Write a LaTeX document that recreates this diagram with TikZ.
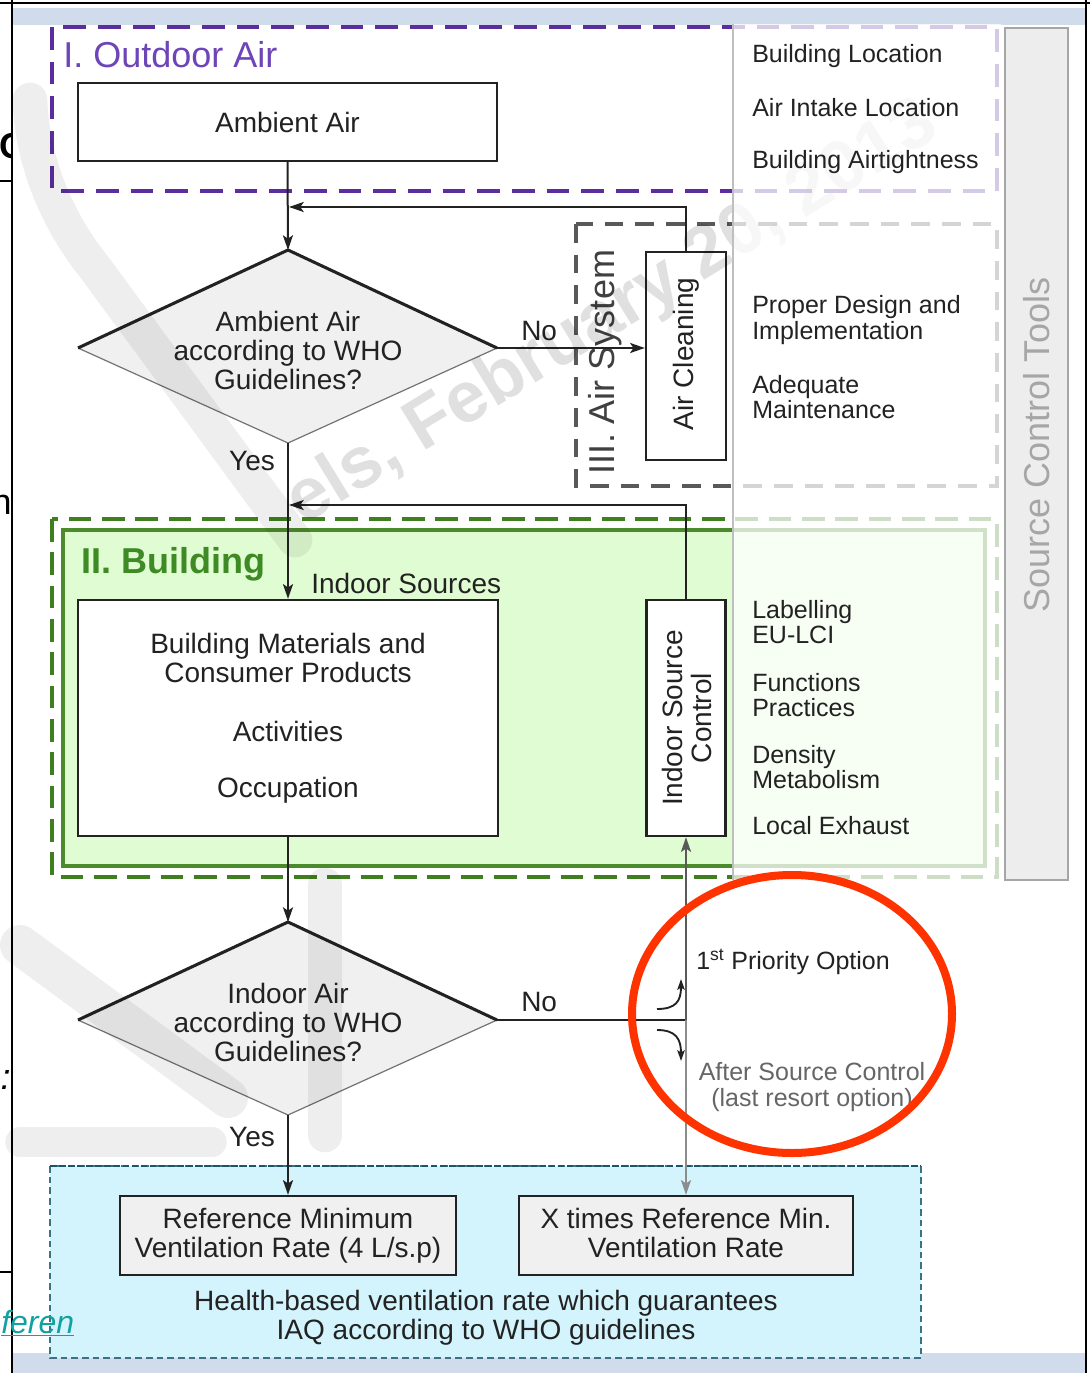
\documentclass[tikz,border=0pt]{standalone}
\usepackage{fontspec}
\setmainfont{Liberation Sans}
\usetikzlibrary{arrows.meta}
\definecolor{outpurple}{HTML}{5B2D9E}
\definecolor{titlepurple}{HTML}{6E45B8}
\definecolor{bgreen}{HTML}{3F7F1F}
\definecolor{bgreenfill}{HTML}{E0FCD2}
\definecolor{tgreen}{HTML}{3E8A24}
\definecolor{ingreen}{HTML}{4B8B2B}
\definecolor{bluefill}{HTML}{D3F4FC}
\definecolor{bluedash}{HTML}{1D5566}
\definecolor{bluedashs}{HTML}{3C7282}
\definecolor{stripblue}{HTML}{D0DCEC}
\definecolor{redring}{HTML}{FF3300}
\definecolor{teallink}{HTML}{13A0A0}
\definecolor{inkc}{HTML}{222222}
\definecolor{boxfill}{HTML}{F0F0F0}
\newcommand{\fmain}{\fontsize{21}{21.75}\selectfont}
\newcommand{\fsmall}{\fontsize{18.75}{19}\selectfont}
\newcommand{\ftitle}{\fontsize{27}{30}\selectfont}
\begin{document}
\begin{tikzpicture}[x=0.75pt,y=-0.75pt,
  box/.style={draw=inkc, line width=1.8pt, inner sep=0pt, align=center, font=\fmain, text=inkc},
  conn/.style={line width=1.5pt, draw=inkc, -{Stealth[length=11pt,width=7.5pt,inset=2.5pt]}},
  conline/.style={line width=1.5pt, draw=inkc},
  lbl/.style={font=\fmain, inner sep=0pt, text=inkc},
  tool/.style={font=\fsmall, inner sep=0pt, anchor=west, align=left, text=inkc},
  band/.style={draw=black, draw opacity=0.065, line width=26pt, line cap=round, line join=round},
  smallarrow/.style={line width=1.4pt, draw=inkc, -{Stealth[length=8pt,width=5.5pt,inset=1.5pt]}}
]
\useasboundingbox (0,0) rectangle (1090,1373);
\fill[white] (0,0) rectangle (1090,1373);

% page fragments at the left edge
\begin{scope}
\clip (0,0) rectangle (11,1373);
\node[font={\fontsize{27}{27}\selectfont\bfseries}, anchor=west, inner sep=0pt] (fragc) at (-1,146) {C};
\node[font={\fontsize{27}{27}\selectfont}, anchor=east, inner sep=0pt] (fragn) at (12,505) {n};
\node[font={\fontsize{27}{27}\selectfont\itshape}, anchor=east, inner sep=0pt] (fragcolon) at (11,1080) {:};
\end{scope}
\draw[line width=2.2pt] (0,181) -- (12,181);
\draw[line width=1.2pt] (0,1272) -- (12,1272);

% page border lines and strips
\fill[stripblue] (13,8) rectangle (1086,25);
\fill[stripblue] (13,1353) rectangle (1086,1373);
\draw[line width=1.5pt] (0,3) -- (1090,3);
\draw[line width=1.5pt] (12,0) -- (12,1373);
\draw[line width=1.5pt] (1086,0) -- (1086,1373);

% frames
\draw[bgreen, line width=3.2pt, dash pattern=on 17pt off 8pt] (52,519) rectangle (997,877);
\draw[ingreen, fill=bgreenfill, line width=3.6pt] (63,530) rectangle (985,866);
\draw[outpurple, line width=3.2pt, dash pattern=on 17pt off 9pt] (52,27) rectangle (997,191);
\draw[black!65, line width=3pt, dash pattern=on 14pt off 9pt] (576,224) rectangle (997,486);
\draw[bluedashs, fill=bluefill, line width=1.3pt, dash pattern=on 5pt off 3pt] (50,1166) rectangle (921,1358);
\draw[bluedash, line width=2.2pt, dash pattern=on 5pt off 1.8pt] (50,1166) -- (921,1166);

% titles
\node[font=\ftitle, text=titlepurple, anchor=west, inner sep=0pt] (t1) at (63,55) {I. Outdoor Air};
\node[font={\ftitle\bfseries}, text=tgreen, anchor=west, inner sep=0pt] (t2) at (81,564) {II. Building};
\node[font=\ftitle, text=black!75, rotate=90, inner sep=0pt] (t3) at (605,362) {III. Air System};

% boxes
\node[box, fill=white, minimum width=314.25pt, minimum height=58.5pt] (aa) at (287.5,122) {Ambient Air};
\node[box, fill=white, minimum width=60pt, minimum height=156pt] (ac) at (686,356) {};
\node[lbl, rotate=90] (act) at (686,354) {Air Cleaning};
\node[box, fill=white, minimum width=315pt, minimum height=177pt] (bm) at (288,718) {Building Materials and\\Consumer Products\\[22.5pt]Activities\\[20.5pt]Occupation};
\node[box, fill=white, minimum width=59.25pt, minimum height=177pt] (isc) at (686,718) {};
\node[lbl, rotate=90, align=center] (isct) at (687,718) {Indoor Source\\Control};
\node[box, fill=boxfill, minimum width=252pt, minimum height=59.25pt] (rm) at (288,1235.5) {Reference Minimum\\Ventilation Rate (4 L/s.p)};
\node[box, fill=boxfill, minimum width=250.5pt, minimum height=59.25pt] (xt) at (686,1235.5) {X times Reference Min.\\Ventilation Rate\vphantom{(p}};

% diamonds
\coordinate (d1n) at (288,250); \coordinate (d1w) at (78,348);
\coordinate (d1e) at (497,348); \coordinate (d1s) at (288,443);
\fill[boxfill] (d1n) -- (d1e) -- (d1s) -- (d1w) -- cycle;
\draw[black!55, line width=0.9pt] (d1w) -- (d1s) -- (d1e);
\draw[inkc, line width=2.3pt] (d1w) -- (d1n) -- (d1e);
\node[lbl, align=center] (d1t) at (288,350) {Ambient Air\\according to WHO\\Guidelines?};

\coordinate (d2n) at (288,922); \coordinate (d2w) at (78,1020);
\coordinate (d2e) at (497,1020); \coordinate (d2s) at (288,1115);
\fill[boxfill] (d2n) -- (d2e) -- (d2s) -- (d2w) -- cycle;
\draw[black!55, line width=0.9pt] (d2w) -- (d2s) -- (d2e);
\draw[inkc, line width=2.3pt] (d2w) -- (d2n) -- (d2e);
\node[lbl, align=center] (d2t) at (288,1022) {Indoor Air\\according to WHO\\Guidelines?};

% connectors
\coordinate (j1) at (289,207);
\coordinate (j2) at (289,505);
\coordinate (j3) at (686,1020);
\draw[conn] (aa.south) -- (d1n);
\draw[conn] (ac.north) |- (j1);
\draw[conn] (d1e) -- (d1e -| ac.west);
\draw[conn] (d1s) -- (bm.north);
\draw[conn] (isc.north) |- (j2);
\draw[conn] (bm.south) -- (d2n);
\draw[conline] (d2e) -- (j3);
\draw[conn, draw=black!65] (j3) -- (isc.south);
\draw[conn, draw=black!45] (j3) -- (j3 |- xt.north);
\draw[conn] (d2s) -- (rm.north);

\node[lbl, anchor=west] (no1) at (521,331) {No};
\node[lbl, anchor=west] (no2) at (521,1002) {No};
\node[lbl] (yes1) at (252,461) {Yes};
\node[lbl] (yes2) at (252,1137) {Yes};
\node[lbl, anchor=west] (insrc) at (311,583) {Indoor Sources};

% small curved arrows
\coordinate (ca1s) at (657,1009); \coordinate (ca1e) at (681,979);
\coordinate (ca2s) at (657,1030); \coordinate (ca2e) at (681,1061);
\draw[smallarrow] (ca1s) .. controls (676,1009) and (681,1001) .. (ca1e);
\draw[smallarrow] (ca2s) .. controls (676,1030) and (681,1039) .. (ca2e);

\node[lbl, align=center] (hb) at (486,1318) {Health-based ventilation rate which guarantees\\IAQ according to WHO guidelines};

% watermark (translucent, over the drawing)
\draw[band] (30,100) .. controls (32,165) and (60,225) .. (95,268) -- (295,540);
\draw[band, line width=30pt] (20,945) -- (228,1098);
\draw[band] (325,885) -- (325,1135);
\draw[band, line width=22pt] (20,1142) -- (212,1142);
\node[font={\fontsize{54}{54}\selectfont\bfseries}, text=black, text opacity=0.12, rotate=31.5, anchor=base west, inner sep=0pt] (wm) at (303,526) {els, February 20, 2013};

% faded right panel
\fill[white, opacity=0.75] (733,24) rectangle (1001,881);
\draw[black!25, line width=0.8pt] (733,24) -- (733,880);

% source control tools column
\node[draw=black!35, fill=black!7, line width=1.2pt, minimum width=47.25pt, minimum height=639pt, inner sep=0pt] (scbox) at (1036.5,454) {};
\node[font=\ftitle, text=black!35, rotate=90, inner sep=0pt] (sct) at (1037,445) {Source Control Tools};

% right column texts
\node[tool] (r1) at (752,56) {Building Location};
\node[tool] (r2) at (752,108) {Air Intake Location};
\node[tool] (r3) at (752,162) {Building Airtightness};
\node[tool] (r4) at (752,320) {Proper Design and\\Implementation};
\node[tool] (r5) at (752,397) {Adequate\\Maintenance};
\node[tool] (r6) at (752,622) {Labelling\\EU-LCI};
\node[tool] (r7) at (752,695) {Functions\\Practices};
\node[tool] (r8) at (752,767) {Density\\Metabolism};
\node[tool] (r9) at (752,826) {Local Exhaust};

\node[tool] (prio) at (696,962) {1\textsuperscript{st} Priority Option};
\node[font=\fsmall, text=black!60, align=center, inner sep=0pt] (after) at (812,1087) {After Source Control\\[1pt](last resort option)};

% red ring
\draw[redring, line width=6pt] (792,1014) ellipse [x radius=160, y radius=139];

% link fragment
\node[font={\fontsize{24}{24}\selectfont\itshape}, text=teallink, anchor=base west, inner sep=0pt] (fragf) at (1,1333) {\underline{feren}};
\end{tikzpicture}
\end{document}
